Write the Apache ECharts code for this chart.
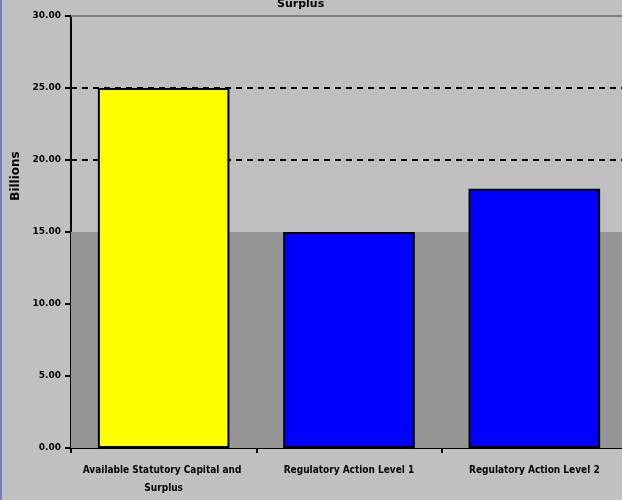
<!DOCTYPE html>
<html>
<head>
<meta charset="utf-8">
<style>
  html, body { margin: 0; padding: 0; background: #c0c0c0; overflow: hidden; width: 622px; height: 500px; }
  #chart { width: 627px; height: 500px; }
</style>
<script src="https://cdn.jsdelivr.net/npm/echarts@6/dist/echarts.min.js"></script>
</head>
<body>
<div id="chart"></div>
<script>
// ---- data ----
const categories = ['Available Statutory Capital and Surplus', 'Regulatory Action Level 1', 'Regulatory Action Level 2'];
const values = [25, 15, 18];
const barColors = ['#ffff00', '#0000ff', '#0000ff'];
const yTicks = [0, 5, 10, 15, 20, 25, 30];
const dashedLevels = [20, 25];
const bandTop = 15;
const titleText = 'Surplus';
const yAxisName = 'Billions';

const FONT = '"DejaVu Sans Condensed", "DejaVu Sans", sans-serif';
const FONT_WIDE = '"DejaVu Sans", sans-serif';
const yMin = yTicks[0], yMax = yTicks[yTicks.length - 1];

const chart = echarts.init(document.getElementById('chart'));
chart.setOption({
  backgroundColor: '#c0c0c0',
  animation: false,
  title: {
    text: titleText,
    left: 272,
    top: -6,
    textStyle: { fontFamily: FONT_WIDE, fontWeight: 'bold', fontSize: 11, color: '#000' }
  },
  graphic: [
    { type: 'rect', left: 0, top: 0, shape: { width: 2, height: 500 }, style: { fill: '#7878c4' }, z: 100 },
    { type: 'text', x: 16, y: 176, rotation: Math.PI / 2,
      style: { text: yAxisName, fontFamily: FONT_WIDE, fontWeight: 'bold', fontSize: 12, fill: '#000',
               align: 'center', verticalAlign: 'middle' } }
  ],
  grid: { left: 71, right: 0, top: 16, bottom: 52, containLabel: false },
  xAxis: {
    type: 'category',
    data: categories,
    axisLine: { show: true, lineStyle: { color: '#000', width: 2 } },
    axisTick: { show: true, interval: 0, alignWithLabel: false, length: 5, lineStyle: { color: '#000', width: 2 } },
    axisLabel: {
      interval: 0, margin: 13, lineHeight: 18, width: 172, overflow: 'break',
      fontFamily: FONT, fontWeight: 'bold', fontSize: 10, color: '#000'
    },
    splitLine: { show: false }
  },
  yAxis: {
    type: 'value',
    min: yMin, max: yMax, interval: yTicks[1] - yTicks[0],
    axisLine: { show: true, lineStyle: { color: '#000', width: 2 } },
    axisTick: { show: true, length: 6, lineStyle: { color: '#000', width: 2 } },
    axisLabel: {
      margin: 10, formatter: v => v.toFixed(2),
      fontFamily: FONT_WIDE, fontWeight: 'bold', fontSize: 9, color: '#000'
    },
    splitLine: { show: false }
  },
  series: [
    {
      type: 'line',
      data: [],
      z: 1,
      silent: true,
      markArea: {
        silent: true,
        itemStyle: { color: '#969696' },
        data: [[{ yAxis: yMin }, { yAxis: bandTop }]]
      },
      markLine: {
        silent: true,
        symbol: 'none',
        label: { show: false },
        data: dashedLevels.map(v => ({ yAxis: v, lineStyle: { color: '#000', type: [6, 5], width: 2 } }))
          .concat([{ yAxis: yMax, lineStyle: { color: '#808080', type: 'solid', width: 2 } }])
      }
    },
    {
      type: 'bar',
      z: 5,
      barCategoryGap: '29%',
      data: values.map((v, i) => ({ value: v, itemStyle: { color: barColors[i] } })),
      itemStyle: { borderColor: '#000', borderWidth: 2 }
    }
  ]
});
</script>
</body>
</html>
